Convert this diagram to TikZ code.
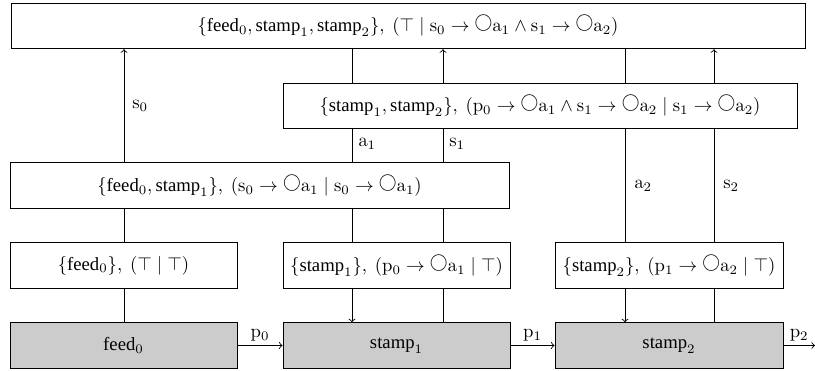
\documentclass[tikz,border=0pt]{standalone}
\usepackage{amsmath}
\usepackage[no-math]{fontspec}
\setmainfont{Liberation Serif}
\usetikzlibrary{arrows}
% "next" operator: a circle sitting on the baseline
\newcommand{\nxt}{\mathord{\raisebox{0.23em}{\scalebox{0.95}{$\bigcirc$}}}}
\newcommand{\cmp}[1]{\text{#1}}
\newlength\pxu
\setlength\pxu{0.535pt}
\begin{document}
\begin{tikzpicture}[x=0.535pt,y=-0.535pt,
  box/.style={draw,line width=0.5pt,inner sep=0pt,minimum height=45.5\pxu,font=\normalsize},
  comp/.style={box,fill=black!20},
  wire/.style={line width=0.45pt},
  arr/.style={wire,->},
  lbl/.style={inner sep=1pt,anchor=west}]
\useasboundingbox (0,0) rectangle (815,371);

% composite contracts
\node[box,minimum width=794\pxu] (top) at (408,26)
  {$\{\cmp{feed}_0,\cmp{stamp}_1,\cmp{stamp}_2\},\ (\top\mid \mathrm{s}_0\rightarrow\nxt\mathrm{a}_1\wedge\mathrm{s}_1\rightarrow\nxt\mathrm{a}_2)$};
\node[box,minimum width=514\pxu] (mid) at (540,106)
  {$\{\cmp{stamp}_1,\cmp{stamp}_2\},\ (\mathrm{p}_0\rightarrow\nxt\mathrm{a}_1\wedge\mathrm{s}_1\rightarrow\nxt\mathrm{a}_2\mid \mathrm{s}_1\rightarrow\nxt\mathrm{a}_2)$};
\node[box,minimum width=499\pxu] (fs) at (259.5,185.5)
  {$\{\cmp{feed}_0,\cmp{stamp}_1\},\ (\mathrm{s}_0\rightarrow\nxt\mathrm{a}_1\mid \mathrm{s}_0\rightarrow\nxt\mathrm{a}_1)$};

% elementary contracts
\node[box,minimum width=227\pxu] (cf) at (123.5,265.5)
  {$\{\cmp{feed}_0\},\ (\top\mid\top)$};
\node[box,minimum width=227\pxu] (cs1) at (396.5,265.5)
  {$\{\cmp{stamp}_1\},\ (\mathrm{p}_0\rightarrow\nxt\mathrm{a}_1\mid\top)$};
\node[box,minimum width=228\pxu] (cs2) at (669,265.5)
  {$\{\cmp{stamp}_2\},\ (\mathrm{p}_1\rightarrow\nxt\mathrm{a}_2\mid\top)$};

% components
\node[comp,minimum width=227\pxu] (gf) at (123.5,345.5) {$\cmp{feed}_0$};
\node[comp,minimum width=227\pxu] (gs1) at (396.5,345.5) {$\cmp{stamp}_1$};
\node[comp,minimum width=228\pxu] (gs2) at (669,345.5) {$\cmp{stamp}_2$};
\coordinate (out) at (815,345.5);

% wire positions
\coordinate (xa) at (124,0);
\coordinate (xb) at (352,0);
\coordinate (xc) at (443,0);
\coordinate (xd) at (625,0);
\coordinate (xe) at (714,0);

% feed column
\draw[wire] (gf.north -| xa) -- (cf.south -| xa);
\draw[wire] (cf.north -| xa) -- (fs.south -| xa);
\draw[arr] (fs.north -| xa) -- node[lbl,pos=0.5,xshift=6\pxu]{$\mathrm{s}_0$} (top.south -| xa);

% stamp1 columns
\draw[arr] (cs1.south -| xb) -- (gs1.north -| xb);
\draw[wire] (gs1.north -| xc) -- (cs1.south -| xc);
\draw[wire] (cs1.north -| xb) -- (fs.south -| xb);
\draw[wire] (cs1.north -| xc) -- (fs.south -| xc);
\draw[wire] (fs.north -| xb) -- node[lbl,pos=0.55,xshift=4\pxu]{$\mathrm{a}_1$} (mid.south -| xb);
\draw[wire] (fs.north -| xc) -- node[lbl,pos=0.55,xshift=4\pxu]{$\mathrm{s}_1$} (mid.south -| xc);
\draw[wire] (mid.north -| xb) -- (top.south -| xb);
\draw[arr] (mid.north -| xc) -- (top.south -| xc);

% stamp2 columns
\draw[arr] (cs2.south -| xd) -- (gs2.north -| xd);
\draw[wire] (gs2.north -| xe) -- (cs2.south -| xe);
\draw[wire] (cs2.north -| xd) -- node[lbl,pos=0.5,xshift=7\pxu]{$\mathrm{a}_2$} (mid.south -| xd);
\draw[wire] (cs2.north -| xe) -- node[lbl,pos=0.5,xshift=7\pxu]{$\mathrm{s}_2$} (mid.south -| xe);
\draw[wire] (mid.north -| xd) -- (top.south -| xd);
\draw[arr] (mid.north -| xe) -- (top.south -| xe);

% component outputs
\draw[arr] (gf.east) -- node[above,inner sep=2pt]{$\mathrm{p}_0$} (gs1.west);
\draw[arr] (gs1.east) -- node[above,inner sep=2pt]{$\mathrm{p}_1$} (gs2.west);
\draw[arr] (gs2.east) -- node[above,inner sep=2pt]{$\mathrm{p}_2$} (out);
\end{tikzpicture}
\end{document}
